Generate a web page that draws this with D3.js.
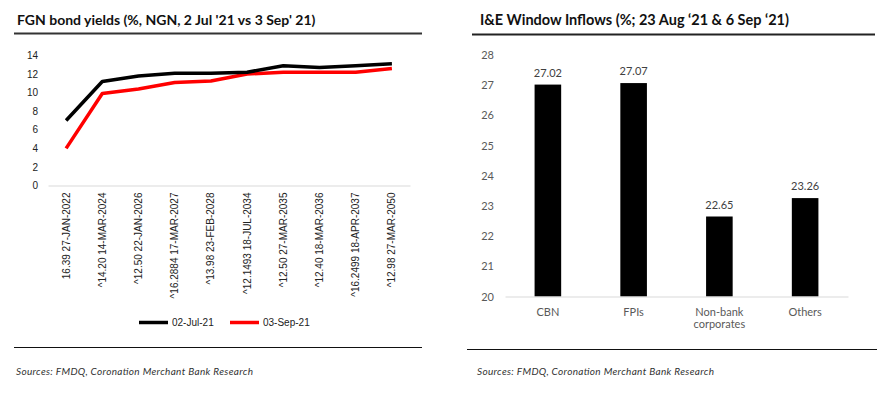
<!DOCTYPE html>
<html><head><meta charset="utf-8">
<script src="https://cdn.jsdelivr.net/npm/d3@7"></script>
<style>
body{margin:0;background:#fff;}
svg{display:block;}
</style></head><body>
<svg id="c" width="885" height="394"></svg>
<script>
// ---- Data: left chart ----
const bonds = ["16.39 27-JAN-2022","^14.20 14-MAR-2024","^12.50 22-JAN-2026","^16.2884 17-MAR-2027","^13.98 23-FEB-2028","^12.1493 18-JUL-2034","^12.50 27-MAR-2035","^12.40 18-MAR-2036","^16.2499 18-APR-2037","^12.98 27-MAR-2050"];
const yieldJul = [7.0, 11.2, 11.8, 12.1, 12.1, 12.2, 12.9, 12.7, 12.9, 13.1];
const yieldSep = [4.0, 9.9, 10.4, 11.1, 11.25, 12.0, 12.2, 12.2, 12.2, 12.6];
const leftTicks = [0, 2, 4, 6, 8, 10, 12, 14];
const seriesNames = ["02-Jul-21", "03-Sep-21"];
// ---- Data: right chart ----
const groups = ["CBN", "FPIs", "Non-bank corporates", "Others"];
const inflows = [27.02, 27.07, 22.65, 23.26];
const rightTicks = [20, 21, 22, 23, 24, 25, 26, 27, 28];

const svg = d3.select("#c");

// ---------- Left panel ----------
svg.append("text").attr("x", 17).attr("y", 25)
  .attr("font-family", "Lato").attr("font-weight", "bold").attr("font-size", 14)
  .attr("fill", "#111").text("FGN bond yields (%, NGN, 2 Jul '21 vs 3 Sep' 21)");
svg.append("line").attr("x1", 14).attr("x2", 422).attr("y1", 33.5).attr("y2", 33.5)
  .attr("stroke", "#333").attr("stroke-width", 2);

const x1 = d3.scaleBand().domain(bonds).range([48, 410]);
const y1 = d3.scaleLinear().domain([0, 14]).range([185.5, 55.5]);

const gl = svg.append("g");
const ly = d3.axisLeft(y1).tickValues(leftTicks).tickSize(0).tickPadding(0);
gl.append("g").attr("transform", "translate(38,0)").call(ly)
  .call(g => g.select(".domain").remove())
  .call(g => g.selectAll("text").attr("font-family", "Liberation Sans").attr("font-size", 10).attr("fill", "#222"));

const lx = d3.axisBottom(x1).tickSize(0).tickPadding(0);
gl.append("g").attr("transform", "translate(0,185.5)").call(lx)
  .call(g => g.select(".domain").attr("stroke", "#d9d9d9").attr("stroke-width", 1))
  .call(g => g.selectAll("text").attr("font-family", "Liberation Sans").attr("font-size", 10).attr("fill", "#222")
    .attr("text-anchor", "end").attr("dy", "0.35em")
    .attr("transform", "translate(0,7) rotate(-90)"));

const line = d3.line().x((d, i) => x1(bonds[i]) + x1.bandwidth() / 2).y(d => y1(d));
gl.append("path").datum(yieldSep).attr("d", line).attr("fill", "none")
  .attr("stroke", "#ff0000").attr("stroke-width", 3.5).attr("stroke-linejoin", "round");
gl.append("path").datum(yieldJul).attr("d", line).attr("fill", "none")
  .attr("stroke", "#000").attr("stroke-width", 3.5).attr("stroke-linejoin", "round");

// legend
const leg = [{n: seriesNames[0], c: "#000", x: 139}, {n: seriesNames[1], c: "#ff0000", x: 230}];
leg.forEach(l => {
  svg.append("line").attr("x1", l.x).attr("x2", l.x + 29).attr("y1", 322.5).attr("y2", 322.5)
    .attr("stroke", l.c).attr("stroke-width", 3.5);
  svg.append("text").attr("x", l.x + 33).attr("y", 322.5).attr("dy", "0.35em")
    .attr("font-family", "Liberation Sans").attr("font-size", 10).attr("fill", "#222").text(l.n);
});

svg.append("line").attr("x1", 14).attr("x2", 422).attr("y1", 347.5).attr("y2", 347.5)
  .attr("stroke", "#111").attr("stroke-width", 1.2);
svg.append("text").attr("x", 16).attr("y", 375)
  .attr("font-family", "Lato").attr("font-style", "italic").attr("font-size", 10)
  .attr("textLength", 237).attr("lengthAdjust", "spacing")
  .attr("fill", "#333").text("Sources: FMDQ, Coronation Merchant Bank Research");

// ---------- Right panel ----------
svg.append("text").attr("x", 480).attr("y", 25)
  .attr("font-family", "Lato").attr("font-weight", "bold").attr("font-size", 14.5)
  .attr("fill", "#111").text("I&E Window Inflows (%; 23 Aug \u201821 & 6 Sep \u201821)");
svg.append("line").attr("x1", 472).attr("x2", 875).attr("y1", 34.5).attr("y2", 34.5)
  .attr("stroke", "#222").attr("stroke-width", 2);

const x2 = d3.scaleBand().domain(groups).range([505, 848]).paddingInner(0.69).paddingOuter(0.345);
const y2 = d3.scaleLinear().domain([20, 28]).range([296.5, 55]);

const gr = svg.append("g");
gr.append("g").attr("transform", "translate(494,0)").call(d3.axisLeft(y2).tickValues(rightTicks).tickSize(0).tickPadding(0))
  .call(g => g.select(".domain").remove())
  .call(g => g.selectAll("text").attr("font-family", "Lato").attr("font-size", 11).attr("fill", "#595959"));

gr.selectAll("rect.bar").data(inflows).enter().append("rect").attr("class", "bar")
  .attr("x", (d, i) => x2(groups[i])).attr("width", x2.bandwidth())
  .attr("y", d => y2(d)).attr("height", d => y2(20) - y2(d)).attr("fill", "#000");

gr.append("g").attr("transform", "translate(0,296.5)").call(d3.axisBottom(x2).tickSize(0).tickPadding(0).tickFormat(""))
  .call(g => g.select(".domain").attr("stroke", "#d9d9d9").attr("stroke-width", 1));

// category labels (wrapped)
groups.forEach(gname => {
  const words = gname === "Non-bank corporates" ? ["Non-bank", "corporates"] : [gname];
  const t = gr.append("text").attr("text-anchor", "middle")
    .attr("font-family", "Lato").attr("font-size", 11).attr("fill", "#595959");
  words.forEach((w, k) => {
    t.append("tspan").attr("x", x2(gname) + x2.bandwidth() / 2).attr("y", 315.5 + k * 12).text(w);
  });
});

gr.selectAll("text.lbl").data(inflows).enter().append("text").attr("class", "lbl")
  .attr("x", (d, i) => x2(groups[i]) + x2.bandwidth() / 2).attr("y", d => y2(d) - 8)
  .attr("text-anchor", "middle").attr("font-family", "Lato").attr("font-size", 11)
  .attr("fill", "#404040").text(d => d.toFixed(2));

svg.append("line").attr("x1", 467).attr("x2", 877).attr("y1", 349.5).attr("y2", 349.5)
  .attr("stroke", "#111").attr("stroke-width", 1.2);
svg.append("text").attr("x", 477).attr("y", 375)
  .attr("font-family", "Lato").attr("font-style", "italic").attr("font-size", 10)
  .attr("textLength", 237).attr("lengthAdjust", "spacing")
  .attr("fill", "#333").text("Sources: FMDQ, Coronation Merchant Bank Research");
</script>
</body></html>
